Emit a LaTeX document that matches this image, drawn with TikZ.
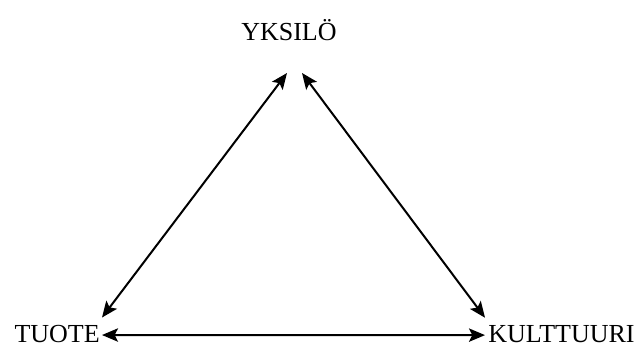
\documentclass[tikz,border=0pt]{standalone}
\usepackage{fontspec}
\setmainfont{Liberation Serif}
\usetikzlibrary{arrows.meta}

\begin{document}
\begin{tikzpicture}[
    x=0.75pt, y=-0.75pt,
    font=\fontsize{19.5}{23}\selectfont,
    label/.style={inner sep=0pt},
    link/.style={{Stealth[length=12pt,width=10pt,inset=2.5pt]}-{Stealth[length=12pt,width=10pt,inset=2.5pt]}, line width=1.5pt}
]
\useasboundingbox (0,0) rectangle (639,347);

\node[label, anchor=base] (yksilo) at (289,40) {YKSILÖ};
\node[label, anchor=base east] (tuote) at (100,342) {TUOTE};
\node[label, anchor=base west] (kulttuuri) at (488,342) {KULTTUURI};

\draw[link] ([shift={(-2,33)}]yksilo.base) -- ([shift={(2,-7)}]tuote.north east);
\draw[link] ([shift={(13,33)}]yksilo.base) -- ([shift={(-3,-7)}]kulttuuri.north west);
\draw[link] ([shift={(2,1.5)}]tuote.east) -- ([shift={(-3,1.5)}]kulttuuri.west);

\end{tikzpicture}
\end{document}
